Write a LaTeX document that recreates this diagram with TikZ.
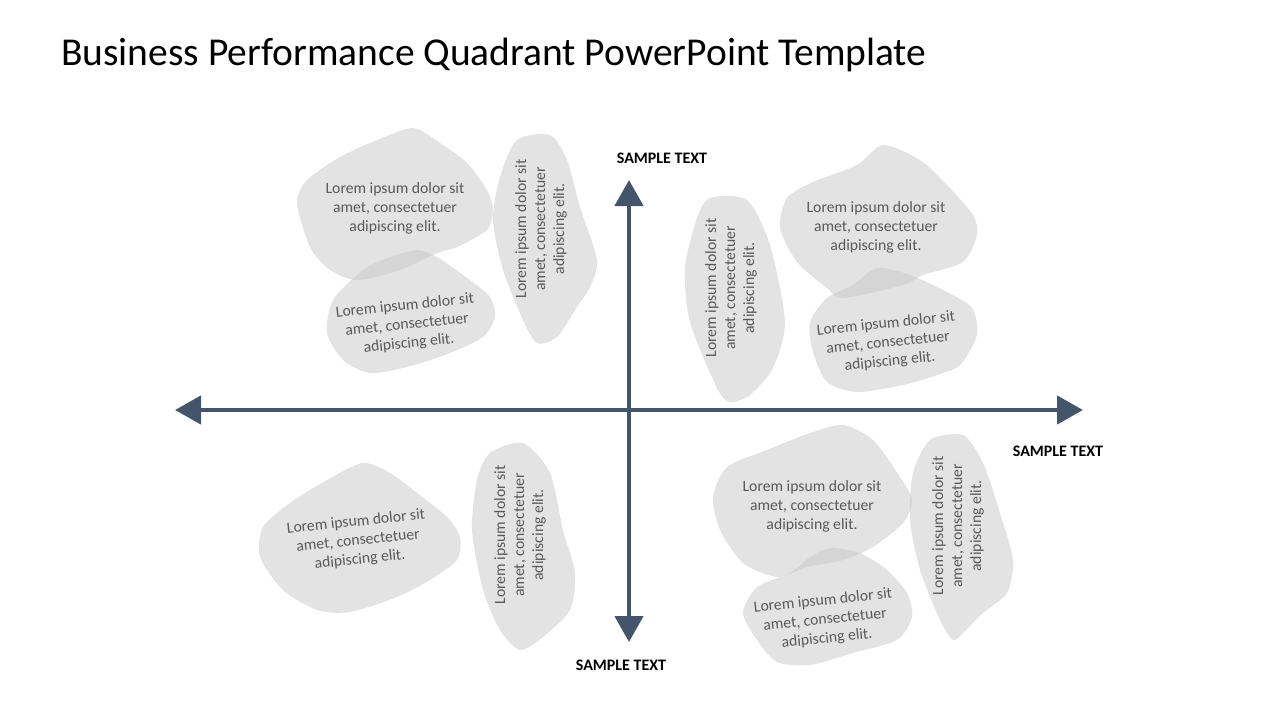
\documentclass[tikz,border=0pt]{standalone}
\usepackage{fontspec}
\setmainfont{Carlito}
\usepackage{tikz}
\usetikzlibrary{arrows.meta}
\definecolor{axisblue}{HTML}{44546A}
\definecolor{loremgray}{HTML}{595959}
\newcommand{\loremtxt}{Lorem ipsum dolor sit\\amet, consectetuer\\adipiscing elit.}

\begin{document}
\begin{tikzpicture}
        [
          x=1pt, y=-1pt,
          blob/.style={fill=black!22, fill opacity=0.5},
          lorem/.style={align=center, text=loremgray, inner sep=0pt,
            font=\fontsize{15.7}{19}\selectfont},
          axis/.style={axisblue, line width=4.5pt,
            {Triangle[width=28pt,length=26pt]}-{Triangle[width=28pt,length=26pt]}},
          axislabel/.style={font=\bfseries\fontsize{16}{18}\selectfont}
        ]
        \useasboundingbox (0,0) rectangle (1280,720);
        % title
        \node [anchor=base west, inner sep=0pt, font=\fontsize{39.5}{47}\selectfont]
          (title) at (61,65) {Business Performance Quadrant PowerPoint Template};
        % top left
        \fill [blob] plot [smooth cycle, tension=0.45] coordinates {(413,128) (440,143)
          (467,163) (487,190) (493,210) (487,230) (457,247) (437,253) (400,270)
          (357,280) (330,270) (310,247) (297,203) (307,180) (340,157) (377,140)};
        \fill [blob] plot [smooth cycle, tension=0.45] coordinates {(417,250) (437,257)
          (470,280) (490,297) (495,317) (483,337) (450,353) (407,367) (370,373)
          (343,360) (327,333) (333,300) (363,270) (390,257)};
        \fill [blob] plot [smooth cycle, tension=0.45] coordinates {(517,140) (550,135)
          (567,160) (580,207) (597,260) (590,287) (577,307) (557,337) (537,343)
          (523,320) (503,270) (493,220) (500,177)};
        \node [lorem] (tl1) at (395,208) {\loremtxt};
        \node [lorem, rotate=6] (tl2) at (407,325) {\loremtxt};
        \node [lorem, rotate=90] (tl3) at (541,229) {\loremtxt};
        % top right
        \fill [blob] plot [smooth cycle, tension=0.45] coordinates {(710,198) (747,200)
          (770,245) (785,322) (773,368) (750,395) (730,402) (717,388) (690,322)
          (685,268) (697,218)};
        \fill [blob] plot [smooth cycle, tension=0.45] coordinates {(883,145) (920,160)
          (947,185) (973,215) (977,235) (963,262) (923,275) (903,285) (843,298)
          (827,288) (797,262) (780,228) (787,198) (813,182) (857,165)};
        \fill [blob] plot [smooth cycle, tension=0.45] coordinates {(877,268) (910,275)
          (947,292) (972,308) (977,335) (960,365) (937,375) (903,385) (857,392)
          (827,382) (813,352) (810,322) (827,298) (853,285)};
        \node [lorem, rotate=90] (tr1) at (731,288) {\loremtxt};
        \node [lorem] (tr2) at (876,227) {\loremtxt};
        \node [lorem, rotate=6] (tr3) at (888,343) {\loremtxt};
        % bottom left
        \fill [blob] plot [smooth cycle, tension=0.45] coordinates {(363,463) (390,473)
          (417,493) (447,517) (460,537) (457,560) (430,580) (397,597) (350,612)
          (317,610) (283,590) (260,557) (263,527) (290,503) (327,480)};
        \fill [blob] plot [smooth cycle, tension=0.45] coordinates {(490,453) (523,443)
          (550,473) (563,530) (575,573) (570,610) (543,637) (520,650) (500,630)
          (483,590) (472,530) (477,480)};
        \node [lorem, rotate=6] (bl1) at (358,541) {\loremtxt};
        \node [lorem, rotate=90] (bl2) at (520,535) {\loremtxt};
        % bottom right
        \fill [blob] plot [smooth cycle, tension=0.45] coordinates {(843,425) (873,440)
          (900,477) (912,500) (903,523) (873,547) (843,560) (807,567) (777,577)
          (743,563) (720,530) (713,497) (727,467) (767,450) (810,433)};
        \fill [blob] plot [smooth cycle, tension=0.45] coordinates {(830,548) (860,553)
          (887,570) (907,593) (912,617) (897,640) (853,653) (810,665) (777,662)
          (757,640) (743,613) (757,587) (790,573) (810,557)};
        \fill [blob] plot [smooth cycle, tension=0.45] coordinates {(930,440) (963,435)
          (983,463) (1000,513) (1013,560) (1007,593) (983,613) (963,633) (953,640)
          (940,620) (920,570) (910,520) (913,473)};
        \node [lorem] (br1) at (812,506) {\loremtxt};
        \node [lorem, rotate=6] (br2) at (825,620) {\loremtxt};
        \node [lorem, rotate=90] (br3) at (958,526) {\loremtxt};
        % axes
        \coordinate (west) at (175,410);
        \coordinate (east) at (1083,410);
        \coordinate (north) at (629,180);
        \coordinate (south) at (629,642);
        \draw [axis] (west) -- (east);
        \draw [axis] (south) -- (north);
        % labels
        \node [axislabel] (ytop) at (662,158) {SAMPLE TEXT};
        \node [axislabel] (xright) at (1058,451) {SAMPLE TEXT};
        \node [axislabel] (ybottom) at (621,665) {SAMPLE TEXT};
\end{tikzpicture}
\end{document}
